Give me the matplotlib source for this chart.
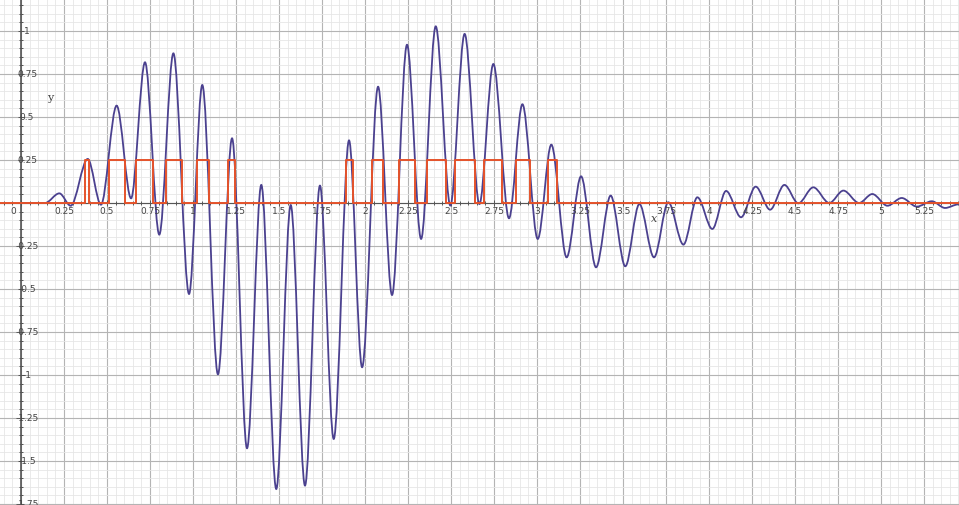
import matplotlib.pyplot as plt
from matplotlib.path import Path
from matplotlib.patches import PathPatch
from matplotlib.ticker import MultipleLocator

# extrema of the purple wave (x, y)
wave_x = [0.00, 0.14, 0.223, 0.289, 0.388, 0.465, 0.556, 0.640, 0.721, 0.804,
          0.886, 0.977, 1.054, 1.145, 1.227, 1.314, 1.397, 1.484, 1.568, 1.651,
          1.738, 1.818, 1.907, 1.983, 2.076, 2.157, 2.244, 2.326, 2.411, 2.496,
          2.579, 2.665, 2.746, 2.837, 2.915, 3.004, 3.083, 3.172, 3.256, 3.343,
          3.428, 3.513, 3.595, 3.680, 3.763, 3.851, 3.932, 4.019, 4.099, 4.186,
          4.271, 4.355, 4.438, 4.519, 4.606, 4.699, 4.781, 4.872, 4.949, 5.037,
          5.120, 5.208, 5.295, 5.372, 5.450]
wave_y = [0.000, 0.000, 0.056, -0.016, 0.256, -0.010, 0.566, 0.027, 0.818, -0.184,
          0.870, -0.529, 0.686, -0.996, 0.376, -1.426, 0.105, -1.663, -0.012, -1.643,
          0.101, -1.372, 0.364, -0.955, 0.676, -0.535, 0.920, -0.209, 1.027, -0.015,
          0.983, -0.006, 0.808, -0.089, 0.574, -0.209, 0.339, -0.316, 0.155, -0.374,
          0.043, -0.368, -0.006, -0.316, 0.004, -0.242, 0.033, -0.151, 0.070, -0.083,
          0.095, -0.039, 0.105, -0.002, 0.091, 0.000, 0.072, 0.000, 0.052, -0.016,
          0.029, -0.021, 0.010, -0.029, -0.008]

# orange pulse train (start, end), height 0.25
pulse_start = [0.374, 0.510, 0.669, 0.841, 1.021, 1.204, 1.888, 2.041, 2.198,
               2.359, 2.525, 2.692, 2.876, 3.066]
pulse_end = [0.397, 0.606, 0.769, 0.936, 1.095, 1.243, 1.932, 2.106, 2.292,
             2.469, 2.638, 2.798, 2.959, 3.114]
pulse_height = 0.25

x_ticks = [0.25, 0.5, 0.75, 1, 1.25, 1.5, 1.75, 2, 2.25, 2.5, 2.75, 3, 3.25,
           3.5, 3.75, 4, 4.25, 4.5, 4.75, 5, 5.25]
x_tick_labels = ["0.25", "0.5", "0.75", "1", "1.25", "1.5", "1.75", "2", "2.25",
                 "2.5", "2.75", "3", "3.25", "3.5", "3.75", "4", "4.25", "4.5",
                 "4.75", "5", "5.25"]
y_ticks = [1, 0.75, 0.5, 0.25, -0.25, -0.5, -0.75, -1, -1.25, -1.5, -1.75]
y_tick_labels = ["1", "0.75", "0.5", "0.25", "-0.25", "-0.5", "-0.75", "-1",
                 "-1.25", "-1.5", "-1.75"]

purple = "#4b418f"
orange = "#e5532b"
x_min, x_max = -0.122, 5.453
y_min, y_max = -1.756, 1.186

fig = plt.figure(figsize=(9.59, 5.06), dpi=100)
ax = fig.add_axes([0, 0, 1, 1])
ax.set_xlim(x_min, x_max)
ax.set_ylim(y_min, y_max)

# grid like a graphing calculator
ax.xaxis.set_major_locator(MultipleLocator(0.25))
ax.xaxis.set_minor_locator(MultipleLocator(0.05))
ax.yaxis.set_major_locator(MultipleLocator(0.25))
ax.yaxis.set_minor_locator(MultipleLocator(0.05))
ax.grid(which="major", color="#b4b4b4", lw=0.8)
ax.grid(which="minor", color="#e6e6e6", lw=0.6)
ax.set_axisbelow(True)

for side in ["top", "right"]:
    ax.spines[side].set_visible(False)
ax.spines["left"].set_position(("data", 0))
ax.spines["bottom"].set_position(("data", 0))
ax.spines["left"].set_color("#555555")
ax.spines["left"].set_linewidth(1.2)
ax.spines["bottom"].set_color("#555555")
ax.tick_params(which="both", direction="inout", color="#555555", width=0.7,
               labelleft=False, labelbottom=False)
ax.tick_params(which="major", length=5)
ax.tick_params(which="minor", length=3)

# purple wave: smooth cubic segments between the extrema
verts = [(wave_x[0], wave_y[0])]
codes = [Path.MOVETO]
for i in range(len(wave_x) - 1):
    x0, y0 = wave_x[i], wave_y[i]
    x1, y1 = wave_x[i + 1], wave_y[i + 1]
    dx = x1 - x0
    verts += [(x0 + dx / 3, y0), (x1 - dx / 3, y1), (x1, y1)]
    codes += [Path.CURVE4] * 3
ax.add_patch(PathPatch(Path(verts, codes), fill=False, edgecolor=purple,
                       lw=1.3, zorder=3))

# orange pulses
px = [x_min]
py = [0]
for a, b in zip(pulse_start, pulse_end):
    px += [a, a, b, b]
    py += [0, pulse_height, pulse_height, 0]
px.append(x_max)
py.append(0)
ax.plot(px, py, color=orange, lw=1.4, zorder=4)

# tick labels drawn on the axes
for xt, lab in zip(x_ticks, x_tick_labels):
    ax.text(xt, -0.045, lab, ha="center", va="center", fontsize=6.5,
            color="#444444", zorder=5)
ax.text(-0.047, -0.045, "0", ha="center", va="center", fontsize=6.5,
        color="#444444", zorder=5)
for yt, lab in zip(y_ticks, y_tick_labels):
    ax.text(0.035, yt, lab, ha="center", va="center", fontsize=6.5,
            color="#444444", zorder=5)

ax.text(0.15, 0.6, "y", fontsize=8, family="DejaVu Serif", color="#444444")
ax.text(3.66, -0.087, "x", fontsize=8, family="DejaVu Serif", style="italic",
        color="#444444", va="center")

plt.savefig("out.png", dpi=100)
